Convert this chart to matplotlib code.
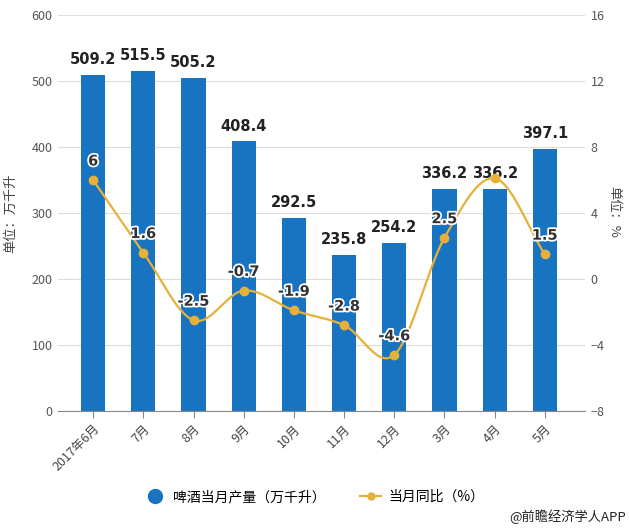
import numpy as np
import matplotlib.pyplot as plt
import matplotlib.patheffects as pe
from matplotlib.lines import Line2D

plt.rcParams['font.family'] = ['Noto Sans CJK SC', 'DejaVu Sans']

months = ['2017年6月', '7月', '8月', '9月', '10月', '11月', '12月', '3月', '4月', '5月']
output = [509.2, 515.5, 505.2, 408.4, 292.5, 235.8, 254.2, 336.2, 336.2, 397.1]
yoy = [6, 1.6, -2.5, -0.7, -1.9, -2.8, -4.6, 2.5, 6.1, 1.5]
yoy_labels = ['6', '1.6', '-2.5', '-0.7', '-1.9', '-2.8', '-4.6', '2.5', '', '1.5']

bar_color = '#1874c1'
line_color = '#e6b03a'


def smooth(x, y, n=30):
    # cubic hermite with catmull-rom tangents
    x = np.asarray(x, float)
    y = np.asarray(y, float)
    m = np.zeros_like(y)
    m[1:-1] = (y[2:] - y[:-2]) / (x[2:] - x[:-2])
    m[0] = (y[1] - y[0]) / (x[1] - x[0])
    m[-1] = (y[-1] - y[-2]) / (x[-1] - x[-2])
    xs, ys = [], []
    for i in range(len(x) - 1):
        h = x[i + 1] - x[i]
        t = np.linspace(0, 1, n, endpoint=False)
        h00 = 2 * t**3 - 3 * t**2 + 1
        h10 = t**3 - 2 * t**2 + t
        h01 = -2 * t**3 + 3 * t**2
        h11 = t**3 - t**2
        xs.append(x[i] + t * h)
        ys.append(h00 * y[i] + h10 * h * m[i] + h01 * y[i + 1] + h11 * h * m[i + 1])
    xs.append([x[-1]])
    ys.append([y[-1]])
    return np.concatenate(xs), np.concatenate(ys)


fig = plt.figure(figsize=(6.29, 5.29), dpi=100)
ax = fig.add_axes([58 / 629, 118 / 529, 527 / 629, 396 / 529])
ax2 = ax.twinx()

x = np.arange(len(months))
ax.bar(x, output, width=0.48, color=bar_color, zorder=2)
for xi, v in zip(x, output):
    ax.text(xi, v + 12, f'{v:.1f}', ha='center', va='bottom', fontsize=10.5,
            fontweight='bold', color='#222222', family='DejaVu Sans', zorder=5)

ax.set_ylim(0, 600)
ax.set_yticks(range(0, 601, 100))
ax.set_xlim(-0.7, 9.8)
ax.set_xticks(x)
ax.set_xticklabels(months, rotation=45, ha='right', rotation_mode='anchor', fontsize=9, color='#444444')
ax.grid(axis='y', color='#dddddd', linewidth=0.8, zorder=0)
ax.set_axisbelow(True)
for s in ['top', 'right', 'left']:
    ax.spines[s].set_visible(False)
ax2.spines[:].set_visible(False)
ax.spines['bottom'].set_color('#888888')
ax.tick_params(axis='y', length=0, labelsize=9, labelcolor='#555555', pad=4)
ax.tick_params(axis='x', length=5, color='#888888', pad=3)
ax.set_ylabel('单位：万千升', fontsize=9.5, color='#444444', labelpad=10)

sx, sy = smooth(x, yoy)
ax2.plot(sx, sy, color=line_color, linewidth=1.6, zorder=3)
ax2.plot(x, yoy, 'o', color=line_color, markersize=6, zorder=4)
for xi, v, lab in zip(x, yoy, yoy_labels):
    if lab:
        ax2.text(xi, v + 0.7, lab, ha='center', va='bottom', fontsize=10.5, fontweight='bold',
                 color='#333333', family='DejaVu Sans', zorder=6,
                 path_effects=[pe.withStroke(linewidth=2.5, foreground='white')])
ax2.set_ylim(-8, 16)
ax2.set_yticks(range(-8, 17, 4))
ax2.tick_params(axis='y', length=0, labelsize=9, labelcolor='#555555', pad=4)
fig.text(614 / 629, 1 - 212 / 529, '单位：%', fontsize=9.5, color='#444444',
         rotation=270, ha='center', va='center')

handles = [
    Line2D([], [], marker='o', linestyle='none', color=bar_color, markersize=10),
    Line2D([], [], marker='o', color=line_color, linewidth=1.6, markersize=5),
]
fig.legend(handles, ['啤酒当月产量（万千升）', '当月同比（%）'], loc='center',
           bbox_to_anchor=(0.5, 32 / 529), ncol=2, frameon=False, fontsize=10,
           handlelength=1.5, columnspacing=2.5, handletextpad=0.5)
fig.text(0.995, 12 / 529, '@前瞻经济学人APP', ha='right', va='center', fontsize=9.5, color='#222222')

fig.savefig('out.png', dpi=100)
